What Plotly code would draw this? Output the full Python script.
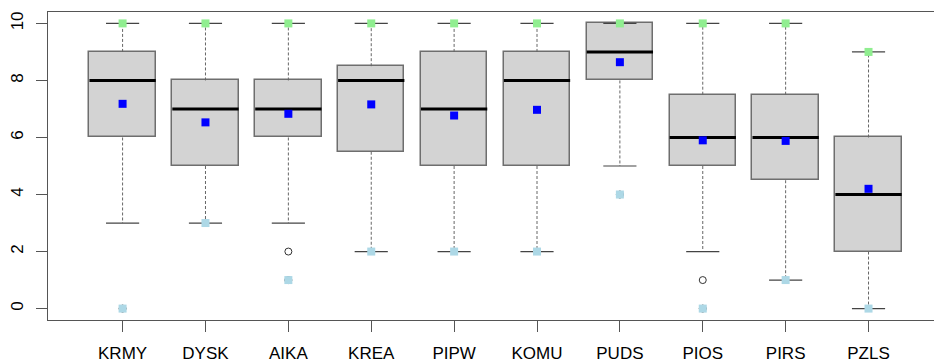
import plotly.graph_objects as go

categories = ["KRMY", "DYSK", "AIKA", "KREA", "PIPW", "KOMU", "PUDS", "PIOS", "PIRS", "PZLS"]
q1 = [6, 5, 6, 5.5, 5, 5, 8, 5, 4.5, 2]
medians = [8, 7, 7, 8, 7, 8, 9, 6, 6, 4]
q3 = [9, 8, 8, 8.5, 9, 9, 10, 7.5, 7.5, 6]
lower_whisker = [3, 3, 3, 2, 2, 2, 5, 2, 1, 0]
upper_whisker = [10, 10, 10, 10, 10, 10, 10, 10, 10, 9]
means = [7.18, 6.53, 6.83, 7.16, 6.77, 6.97, 8.64, 5.90, 5.88, 4.20]
mins = [0, 3, 1, 2, 2, 2, 4, 0, 1, 0]
maxs = [10, 10, 10, 10, 10, 10, 10, 10, 10, 9]
outliers = {"KRMY": [0], "AIKA": [2, 1], "PUDS": [4], "PIOS": [1, 0]}
y_ticks = [0, 2, 4, 6, 8, 10]

pos = list(range(1, len(categories) + 1))
BOX_W = 0.8
CAP_W = 0.4
EDGE = "#6e6e6e"

fig = go.Figure()

# boxes
fig.add_trace(go.Bar(
    x=pos, y=[b - a for a, b in zip(q1, q3)], base=q1, width=BOX_W,
    marker=dict(color="#D3D3D3", line=dict(color=EDGE, width=1.5)),
    hoverinfo="skip", showlegend=False,
))

# whiskers (dashed)
wx, wy = [], []
for p, a, b, lo, hi in zip(pos, q1, q3, lower_whisker, upper_whisker):
    wx += [p, p, None, p, p, None]
    wy += [b, hi, None, a, lo, None]
fig.add_trace(go.Scatter(x=wx, y=wy, mode="lines",
                         line=dict(color="#666666", width=1, dash="3px,2px"),
                         hoverinfo="skip", showlegend=False))

# caps
cx, cy = [], []
for p, lo, hi in zip(pos, lower_whisker, upper_whisker):
    cx += [p - CAP_W / 2, p + CAP_W / 2, None, p - CAP_W / 2, p + CAP_W / 2, None]
    cy += [hi, hi, None, lo, lo, None]
fig.add_trace(go.Scatter(x=cx, y=cy, mode="lines",
                         line=dict(color="#444444", width=1.2),
                         hoverinfo="skip", showlegend=False))

# medians
mx, my = [], []
for p, m in zip(pos, medians):
    mx += [p - BOX_W / 2, p + BOX_W / 2, None]
    my += [m, m, None]
fig.add_trace(go.Scatter(x=mx, y=my, mode="lines",
                         line=dict(color="black", width=3),
                         hoverinfo="skip", showlegend=False))

# outliers
ox, oy = [], []
for c, vals in outliers.items():
    p = pos[categories.index(c)]
    for v in vals:
        ox.append(p)
        oy.append(v)
fig.add_trace(go.Scatter(x=ox, y=oy, mode="markers",
                         marker=dict(symbol="circle-open", size=7, color="#333333", line=dict(width=1)),
                         hoverinfo="skip", showlegend=False))

# points: mean, min, max
fig.add_trace(go.Scatter(x=pos, y=means, mode="markers",
                         marker=dict(symbol="square", size=8, color="#0000FF"),
                         showlegend=False))
fig.add_trace(go.Scatter(x=pos, y=mins, mode="markers",
                         marker=dict(symbol="square", size=8, color="#ADD8E6"),
                         showlegend=False))
fig.add_trace(go.Scatter(x=pos, y=maxs, mode="markers",
                         marker=dict(symbol="square", size=8, color="#90EE90"),
                         showlegend=False))

fig.update_layout(
    width=934, height=361,
    margin=dict(l=48, r=0, t=12, b=41, autoexpand=False),
    paper_bgcolor="white", plot_bgcolor="white",
    font=dict(family="Liberation Sans, Arial, sans-serif", size=17, color="black"),
    showlegend=False,
    bargap=0,
)
fig.update_xaxes(
    range=[0.1, 10.79], tickmode="array", tickvals=pos, ticktext=categories,
    showgrid=False, zeroline=False, showline=True, mirror=True, automargin=False,
    linecolor="#555555", linewidth=1.2, ticks="outside", ticklen=11,
    tickcolor="#555555", ticklabelstandoff=6,
)
fig.update_yaxes(
    range=[-0.4, 10.4], tickmode="array", tickvals=y_ticks,
    showgrid=False, zeroline=False, showline=True, mirror=False, automargin=False,
    linecolor="#555555", linewidth=1.2, ticks="outside", ticklen=11,
    tickcolor="#555555", tickangle=-90, ticklabelstandoff=6,
)

fig.write_html(
    "out.html",
    config={"displayModeBar": False},
    post_script="document.body.style.margin='0';document.body.style.overflow='hidden';",
)
